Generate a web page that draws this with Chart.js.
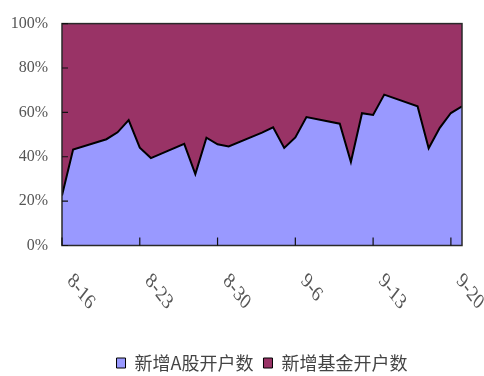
<!DOCTYPE html>
<html>
<head>
<meta charset="utf-8">
<script src="https://cdn.jsdelivr.net/npm/chart.js@4.4.1/dist/chart.umd.min.js"></script>
<style>
html,body{margin:0;padding:0;background:#fff;}
canvas{display:block;}
</style>
</head>
<body>
<canvas id="c" width="484" height="376"></canvas>
<script>
// ---- data (2007, trading days) ----
const dates = ['8-16','8-17','8-20','8-21','8-22','8-23','8-24','8-27','8-28','8-29','8-30','8-31',
  '9-3','9-4','9-5','9-6','9-7','9-10','9-11','9-12','9-13','9-14','9-17','9-18','9-19','9-20','9-21'];
const aShare = [22.5,43.2,47.9,51.0,56.5,44.1,39.4,45.8,32.2,48.6,45.6,44.6,
  50.9,53.3,44.0,48.7,57.9,54.9,37.6,59.6,58.8,68.0,62.7,43.8,53.0,59.7,62.7];
const fundShare = [77.5,56.8,52.1,49.0,43.5,55.9,60.6,54.2,67.8,51.4,54.4,55.4,
  49.1,46.7,56.0,51.3,42.1,45.1,62.4,40.4,41.2,32.0,37.3,56.2,47.0,40.3,37.3];
const seriesNames = ['新增A股开户数','新增基金开户数'];
const yTicks = [0,20,40,60,80,100];
const year = 2007;

const dayMs = 86400000;
function toDate(s){ const p = s.split('-'); return Date.UTC(year, +p[0]-1, +p[1]); }
const t0 = toDate(dates[0]);
const dayIdx = dates.map(d => Math.round((toDate(d) - t0)/dayMs));
function labelOf(v){ const d = new Date(t0 + v*dayMs); return (d.getUTCMonth()+1) + '-' + d.getUTCDate(); }

const ptsA = dayIdx.map((x,i)=>({x:x, y:aShare[i]}));
const ptsF = dayIdx.map((x,i)=>({x:x, y:fundShare[i]}));

const axisPlugin = {
  id:'axisDecor',
  afterDatasetsDraw(chart){
    const ctx = chart.ctx, a = chart.chartArea;
    const xs = chart.scales.x, ys = chart.scales.y;
    ctx.save();
    // border
    ctx.strokeStyle = '#2a2a2a';
    ctx.lineWidth = 1.5;
    ctx.strokeRect(a.left, a.top, a.right - a.left, a.bottom - a.top);
    // inward ticks
    ctx.lineWidth = 1.2;
    ctx.strokeStyle = '#111';
    ctx.beginPath();
    xs.ticks.forEach(t => {
      const px = xs.getPixelForValue(t.value);
      ctx.moveTo(px, a.bottom); ctx.lineTo(px, a.bottom - 8);
    });
    ys.ticks.forEach(t => {
      const py = ys.getPixelForValue(t.value);
      ctx.moveTo(a.left, py); ctx.lineTo(a.left + 6, py);
    });
    ctx.stroke();
    // rotated x labels
    ctx.fillStyle = '#555';
    ctx.font = '17px "Liberation Serif"';
    ctx.textAlign = 'left';
    ctx.textBaseline = 'middle';
    xs.ticks.forEach(t => {
      const px = xs.getPixelForValue(t.value);
      ctx.save();
      ctx.translate(px + 8, a.bottom + 32);
      ctx.scale(1, 1.3);
      ctx.rotate(Math.PI/4);
      ctx.fillText(t.label, 0, 0);
      ctx.restore();
    });
    ctx.restore();
  }
};

new Chart(document.getElementById('c'), {
  type:'line',
  data:{
    datasets:[
      {label:seriesNames[0], data:ptsA, backgroundColor:'#9999FF', borderColor:'#000',
       borderWidth:2, fill:'origin', pointRadius:0, tension:0},
      {label:seriesNames[1], data:ptsF, backgroundColor:'#993366', borderColor:'#000',
       borderWidth:0, fill:'-1', pointRadius:0, tension:0}
    ]
  },
  options:{
    responsive:false,
    animation:false,
    devicePixelRatio:1,
    layout:{padding:{top:21.5, left:0, right:22, bottom:-6}},
    scales:{
      x:{type:'linear', min:0, max:36,
        grid:{display:false}, border:{display:false},
        ticks:{display:false, stepSize:7, includeBounds:false, callback:v=>labelOf(v)},
        afterFit(s){ s.height = 98.5; }
      },
      y:{stacked:true, min:0, max:100,
        grid:{display:false, drawTicks:false}, border:{display:false},
        ticks:{stepSize:20, padding:14, color:'#555', font:{family:'"Liberation Serif"', size:16},
          callback:v=>v+'%'},
        afterBuildTicks(s){ s.ticks = yTicks.map(v=>({value:v})); },
        afterFit(s){ s.width = 62; }
      }
    },
    plugins:{
      legend:{position:'bottom', fullSize:false,
        labels:{boxWidth:9, boxHeight:10, padding:10, color:'#444',
          font:{family:'"Noto Sans CJK SC"', size:18},
          generateLabels(chart){
            const items = Chart.defaults.plugins.legend.labels.generateLabels(chart);
            items.forEach(it=>{ it.lineWidth = 1; it.strokeStyle = '#000'; });
            return items;
          }}
      },
      tooltip:{enabled:false}
    }
  },
  plugins:[axisPlugin]
});
</script>
</body>
</html>
